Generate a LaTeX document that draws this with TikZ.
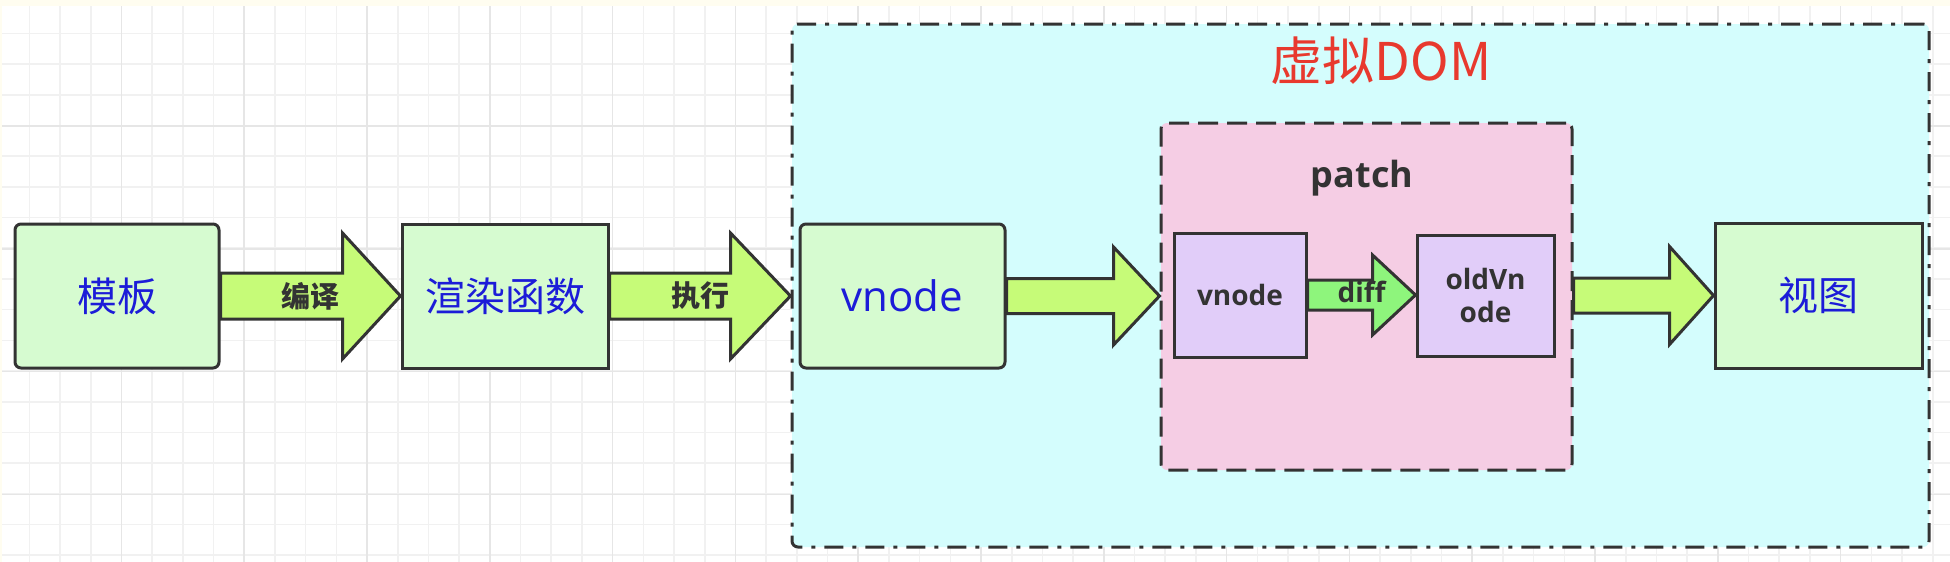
\documentclass[tikz,border=0pt]{standalone}
\usepackage{fontspec}
\setmainfont{Open Sans}
\newfontfamily\cjk{Noto Sans CJK SC}
\usetikzlibrary{calc}
\definecolor{boxgreen}{HTML}{D6FBD0}
\definecolor{arrowgreen}{HTML}{C6FB78}
\definecolor{diffgreen}{HTML}{8EF57C}
\definecolor{domcyan}{HTML}{D4FDFD}
\definecolor{patchpink}{HTML}{F5CDE4}
\definecolor{purplebox}{HTML}{E1CDF9}
\definecolor{edge}{HTML}{333333}
\definecolor{bluetext}{HTML}{1C1CD8}
\definecolor{redtext}{HTML}{E8392E}
\definecolor{gridminor}{HTML}{F1F1F1}
\definecolor{gridmajor}{HTML}{E6E6E6}
\definecolor{topstrip}{HTML}{FFFDF0}
\tikzset{
  box/.style={draw=edge, line width=1.5pt, inner sep=0pt, anchor=center},
  greenbox/.style={box, fill=boxgreen},
  purplebox/.style={box, fill=purplebox},
  bigarrow/.style={draw=edge, line width=1.5pt, fill=arrowgreen, line join=miter},
  diffarrow/.style={draw=edge, line width=1.5pt, fill=diffgreen, line join=miter},
  bluecjk/.style={text=bluetext, font=\cjk\fontsize{20pt}{24pt}\selectfont},
  lbl/.style={text=edge, font=\cjk\bfseries\fontsize{14.5pt}{17pt}\selectfont, inner sep=0pt},
  boldlbl/.style={text=edge, font=\bfseries\fontsize{14pt}{16.5pt}\selectfont, inner sep=0pt, align=center},
}
\newcommand\blockarrow[6]{%
  \draw[#1] ($(#2)+(0,-#4)$) -- ($(#3)+(-#6,-#4)$) -- ($(#3)+(-#6,-#5)$) -- (#3)
    -- ($(#3)+(-#6,#5)$) -- ($(#3)+(-#6,#4)$) -- ($(#2)+(0,#4)$) -- cycle;}
\begin{document}
\begin{tikzpicture}[x=0.5pt,y=-0.5pt]
\useasboundingbox (0,0) rectangle (1950,562);
\fill[white] (0,0) rectangle (1950,562);
\fill[topstrip] (0,0) rectangle (1950,6);
\fill[topstrip] (0,0) rectangle (2,562);
% grid
\foreach \i in {0,...,62} {
  \pgfmathsetmacro\gx{29.3+30.7*\i}
  \draw[gridminor, line width=0.8pt] (\gx,6) -- (\gx,562);
}
\foreach \j in {0,...,17} {
  \pgfmathsetmacro\gy{33.3+30.7*\j}
  \draw[gridminor, line width=0.8pt] (2,\gy) -- (1950,\gy);
}
\foreach \i in {0,...,15} {
  \pgfmathsetmacro\gx{121.4+122.8*\i}
  \draw[gridmajor, line width=0.8pt] (\gx,6) -- (\gx,562);
}
\foreach \j in {0,...,4} {
  \pgfmathsetmacro\gy{126+122.8*\j}
  \draw[gridmajor, line width=0.8pt] (2,\gy) -- (1950,\gy);
}
% containers
\node[draw=edge, line width=1.5pt, fill=domcyan, rounded corners=3pt,
      dash pattern=on 9.5pt off 4.5pt on 2pt off 4.5pt,
      minimum width=568.5pt, minimum height=261.5pt, inner sep=0pt] (dom) at (1360.5,285.5) {};
\node[text=redtext, font=\cjk\fontsize{26pt}{30pt}\selectfont, inner sep=0pt] (domtitle) at (1381,61) {虚拟DOM};
\node[draw=edge, line width=1.5pt, fill=patchpink, rounded corners=3pt,
      dash pattern=on 10pt off 4.5pt,
      minimum width=205.5pt, minimum height=173.5pt, inner sep=0pt] (patch) at (1366.5,296.5) {};
\node[text=edge, font=\bfseries\fontsize{18pt}{20pt}\selectfont, inner sep=0pt] (patchtitle) at (1362,178) {patch};
% boxes
\node[greenbox, rounded corners=3pt, minimum width=102pt, minimum height=72pt, bluecjk] (mb) at (117,296) {模板};
\node[greenbox, minimum width=103pt, minimum height=72pt, bluecjk] (xr) at (505,296) {渲染函数};
\node[greenbox, rounded corners=3pt, minimum width=102.5pt, minimum height=72pt,
      text=bluetext, font=\fontsize{21pt}{24pt}\selectfont] (vn) at (902.5,296) {vnode};
\node[purplebox, minimum width=66pt, minimum height=62pt, boldlbl] (iv) at (1240,295) {vnode};
\node[purplebox, minimum width=68.5pt, minimum height=60.5pt, boldlbl] (ov) at (1485.5,295.5) {oldVn\\ode};
\node[greenbox, minimum width=103.5pt, minimum height=72.5pt, bluecjk] (st) at (1818.5,295.5) {视图};
% arrows
\blockarrow{bigarrow}{mb.east}{xr.west}{23}{63}{58}
\blockarrow{bigarrow}{xr.east}{dom.west |- xr.east}{23}{63}{60}
\blockarrow{bigarrow}{vn.east}{patch.west |- vn.east}{17.5}{49}{46}
\blockarrow{bigarrow}{patch.east |- st.west}{st.west}{17.5}{49}{44}
\blockarrow{diffarrow}{iv.east}{ov.west |- iv.east}{15}{40}{43}
% labels
\node[lbl] (l1) at ($(mb.east)!0.5!(xr.west)$) {编译};
\node[lbl] (l2) at ($(xr.east)!0.5!(dom.west |- xr.east)$) {执行};
\node[boldlbl] (l3) at ($(iv.east)!0.5!(ov.west |- iv.east)+(0,-3)$) {diff};
\end{tikzpicture}
\end{document}
